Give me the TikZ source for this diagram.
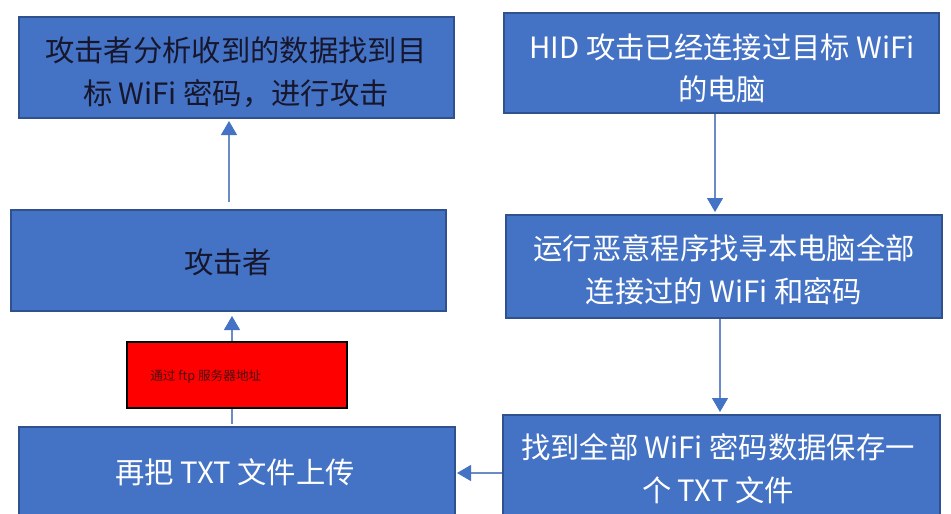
\documentclass[tikz,border=0pt]{standalone}
\usepackage{fontspec}
\setmainfont{Noto Sans CJK SC}
\usetikzlibrary{arrows.meta,calc}
\definecolor{boxblue}{HTML}{4472C4}
\definecolor{boxedge}{HTML}{2F528F}
\definecolor{linec}{HTML}{6A8BC4}
\definecolor{darktxt}{HTML}{16162C}
\definecolor{redtxt}{HTML}{4A1010}
\begin{document}
\begin{tikzpicture}[x=0.75pt,y=-0.75pt,
  box/.style={draw=boxedge, line width=1.5pt, fill=boxblue, inner sep=0pt},
  label/.style={inner sep=0pt, align=center, font=\fontsize{22}{32}\selectfont},
  darklabel/.style={label, text=darktxt},
  lightlabel/.style={label, text=white},
  redbox/.style={draw=black, line width=1.5pt, fill=red, inner sep=0pt},
  redlabel/.style={inner sep=0pt, anchor=west, text=redtxt, font=\fontsize{9.5}{11}\selectfont},
  conn/.style={draw=linec, line width=0.8pt, -{Triangle[length=10.5pt,width=12pt,color=boxblue]}}
]
\fill[white] (0,0) rectangle (951,514);
\useasboundingbox (0,0) rectangle (951,514);
\clip (0,0) rectangle (951,514);

\node[box, minimum width=326.25pt, minimum height=75.75pt] (A) at (236.5,67.5) {};
\node[box, minimum width=326.25pt, minimum height=75pt] (B) at (721.5,63) {};
\node[box, minimum width=326.25pt, minimum height=75.75pt] (C) at (228.5,260.5) {};
\node[box, minimum width=327pt, minimum height=77.25pt] (D) at (724,266.5) {};
\node[box, minimum width=327pt, minimum height=67.5pt] (E) at (237,472) {};
\node[box, minimum width=327.75pt, minimum height=80.25pt] (F) at (721.5,468.5) {};

\node[darklabel] (At) at (236,72.5) {攻击者分析收到的数据找到目\\标 WiFi 密码，进行攻击};
\node[lightlabel] (Bt) at (722,68.5) {HID 攻击已经连接过目标 WiFi\\的电脑};
\node[darklabel] (Ct) at (228,262) {攻击者};
\node[lightlabel] (Dt) at (724,269.5) {运行恶意程序找寻本电脑全部\\连接过的 WiFi 和密码};
\node[lightlabel] (Et) at (235,472) {再把 TXT 文件上传};
\node[lightlabel] (Ft) at (718,468.5) {找到全部 WiFi 密码数据保存一\\个 TXT 文件};

\draw[conn] ($(C.north)+(0.5,-7)$) -- ($(C.north |- A.south)+(0.5,2)$);
\draw[conn] ($(E.north)+(-5,-2)$) -- ($(E.north |- C.south)+(-5,4)$);
\draw[conn] ($(B.south)+(-6.5,0)$) -- ($(B.south |- D.north)+(-6.5,-2)$);
\draw[conn] ($(D.south)+(-4,0)$) -- ($(D.south |- F.north)+(-4,-2)$);
\draw[conn] ($(F.west)+(0,4.5)$) -- ($(F.west -| E.east)+(1,4.5)$);

\node[redbox, minimum width=165pt, minimum height=49.5pt] (R) at (237,375) {};
\node[redlabel] (Rt) at (150,377) {通过 ftp 服务器地址};
\end{tikzpicture}
\end{document}
